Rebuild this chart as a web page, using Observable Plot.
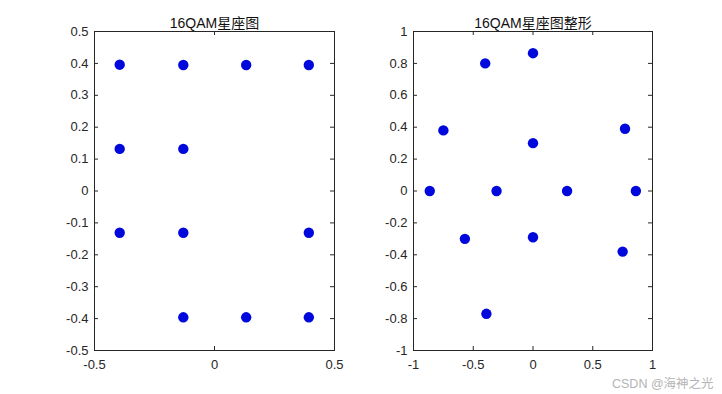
<!DOCTYPE html>
<html><head><meta charset="utf-8">
<script src="https://cdn.jsdelivr.net/npm/d3@7"></script>
<script src="https://cdn.jsdelivr.net/npm/@observablehq/plot@0.6"></script>
<style>
body{margin:0;background:#fff;}
#fig{position:relative;width:722px;height:394px;overflow:hidden;background:#fff;}
#fig svg{position:absolute;top:0;}
#wm{position:absolute;left:612px;top:373px;font-size:12.5px;color:#b4b4b4;font-family:"Liberation Sans","Noto Sans CJK SC",sans-serif;white-space:nowrap;}
</style></head><body><div id="fig"><div id="wm">CSDN @海神之光</div></div>
<script>
// ---- data ----
const leftTitle = "16QAM星座图";
const rightTitle = "16QAM星座图整形";

const leftXTicks = [-0.5, 0, 0.5];
const leftXLabels = ["-0.5", "0", "0.5"];
const leftYTicks = [-0.5, -0.4, -0.3, -0.2, -0.1, 0, 0.1, 0.2, 0.3, 0.4, 0.5];
const leftYLabels = ["-0.5", "-0.4", "-0.3", "-0.2", "-0.1", "0", "0.1", "0.2", "0.3", "0.4", "0.5"];

const rightXTicks = [-1, -0.5, 0, 0.5, 1];
const rightXLabels = ["-1", "-0.5", "0", "0.5", "1"];
const rightYTicks = [-1, -0.8, -0.6, -0.4, -0.2, 0, 0.2, 0.4, 0.6, 0.8, 1];
const rightYLabels = ["-1", "-0.8", "-0.6", "-0.4", "-0.2", "0", "0.2", "0.4", "0.6", "0.8", "1"];

// 16QAM constellation (visible clusters)
const qamI = [-0.395, -0.13, 0.132, 0.393, -0.395, -0.13, -0.395, -0.13, 0.393, -0.13, 0.132, 0.393];
const qamQ = [0.396, 0.395, 0.395, 0.395, 0.132, 0.132, -0.131, -0.131, -0.131, -0.396, -0.396, -0.396];

// shaped constellation (visible clusters)
const shapedI = [-0.40, 0.0, -0.75, 0.77, 0.0, -0.864, -0.305, 0.285, 0.861, -0.57, 0.0, 0.75, -0.39];
const shapedQ = [0.80, 0.864, 0.38, 0.39, 0.30, 0.0, 0.0, 0.0, 0.0, -0.30, -0.29, -0.38, -0.77];

// ---- drawing ----
const AXC = "#262626";
const FONT = "'Liberation Sans', Arial, 'Noto Sans CJK SC', sans-serif";

function panel({title, xd, yd, xt, xl, yt, yl, px, py, marginLeft, marginRight}) {
  const W = 361, H = 394, mt = 31, mb = 44;
  const ph = H - mt - mb, pw = W - marginLeft - marginRight;
  const tl = 4;
  const fmt = (ticks, labels) => d => labels[ticks.indexOf(d)];
  const pts = px.map((x, i) => ({x, y: py[i]}));
  return Plot.plot({
    width: W, height: H, marginTop: mt, marginBottom: mb, marginLeft, marginRight,
    x: {domain: xd, label: null}, y: {domain: yd, label: null},
    style: {fontFamily: FONT, fontSize: "13px", color: AXC, background: "transparent", overflow: "visible"},
    marks: [
      Plot.tickX(xt, {x: d => d, insetTop: ph - tl, stroke: AXC}),
      Plot.tickX(xt, {x: d => d, insetBottom: ph - tl, stroke: AXC}),
      Plot.tickY(yt, {y: d => d, insetRight: pw - tl, stroke: AXC}),
      Plot.tickY(yt, {y: d => d, insetLeft: pw - tl, stroke: AXC}),
      Plot.frame({stroke: AXC}),
      Plot.axisX(xt, {tickSize: 0, tickPadding: 9, tickFormat: fmt(xt, xl), fill: AXC, fontSize: 13}),
      Plot.axisY(yt, {tickSize: 0, tickPadding: 6, tickFormat: fmt(yt, yl), fill: AXC, fontSize: 13}),
      Plot.dot(pts, {x: "x", y: "y", r: 5.2, fill: "#0008dc"}),
      Plot.text([title], {frameAnchor: "top", dy: -13, fontSize: 14, fill: "#111", fontFamily: FONT})
    ]
  });
}

const left = panel({title: leftTitle, xd: [-0.5, 0.5], yd: [-0.5, 0.5],
  xt: leftXTicks, xl: leftXLabels, yt: leftYTicks, yl: leftYLabels,
  px: qamI, py: qamQ, marginLeft: 94, marginRight: 27});
const right = panel({title: rightTitle, xd: [-1, 1], yd: [-1, 1],
  xt: rightXTicks, xl: rightXLabels, yt: rightYTicks, yl: rightYLabels,
  px: shapedI, py: shapedQ, marginLeft: 52, marginRight: 70});
left.style.left = "0px";
right.style.left = "361px";
const fig = document.getElementById("fig");
fig.insertBefore(right, fig.firstChild);
fig.insertBefore(left, fig.firstChild);
</script>
</body></html>
